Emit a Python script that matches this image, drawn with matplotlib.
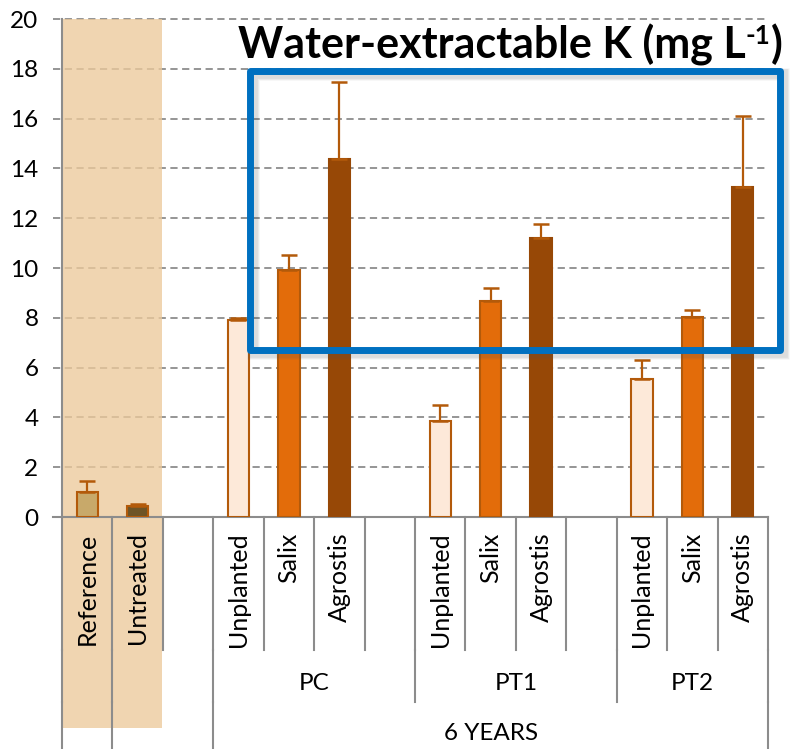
import matplotlib
matplotlib.use("Agg")
import matplotlib.pyplot as plt
from matplotlib.patches import Rectangle
import numpy as np

plt.rcParams['font.family'] = ['Lato', 'DejaVu Sans']

# ---- data ----
categories = ["Reference", "Untreated", "", "Unplanted", "Salix", "Agrostis", "",
              "Unplanted", "Salix", "Agrostis", "", "Unplanted", "Salix", "Agrostis"]
values = [1.02, 0.45, None, 7.91, 9.92, 14.38, None, 3.87, 8.66, 11.19, None, 5.55, 8.05, 13.25]
err_upper = [1.46, 0.51, None, 7.99, 10.52, 17.47, None, 4.50, 9.21, 11.78, None, 6.29, 8.31, 16.10]
groups = ["PC", "PT1", "PT2"]
group_spans = [(3, 7), (7, 11), (11, 14)]
top_label = "6 YEARS"
top_span = (3, 14)
yticks = [0, 2, 4, 6, 8, 10, 12, 14, 16, 18, 20]
title_main = "Water-extractable K (mg L"
title_sup = "-1"
title_end = ")"

fill_colors = {"Reference": "#C8A96A", "Untreated": "#6E5426", "Unplanted": "#FDE9D9",
               "Salix": "#E36C0A", "Agrostis": "#974806"}
edge_colors = {"Reference": "#B35A0A", "Untreated": "#B35A0A", "Unplanted": "#B35A0A",
               "Salix": "#B35A0A", "Agrostis": "#974806"}

W, H = 792, 749
fig = plt.figure(figsize=(W / 100, H / 100), dpi=100)
x0, x1 = 62, 768
y0, y1 = 517, 19
ax = fig.add_axes([x0 / W, (H - y0) / H, (x1 - x0) / W, (y0 - y1) / H])
ax.set_xlim(0, len(categories))
ax.set_ylim(0, 20)

gray = "#8C8C8C"
for yv in yticks[1:]:
    ax.axhline(yv, color=gray, lw=1.3, ls=(0, (4, 2.5)), zorder=1, xmin=-9 / (x1 - x0), clip_on=False)
ax.axhline(0, color=gray, lw=1.5, zorder=2, xmin=-9 / (x1 - x0), xmax=1, clip_on=False)

for s in ["top", "right", "bottom"]:
    ax.spines[s].set_visible(False)
ax.spines["left"].set_color(gray)
ax.spines["left"].set_linewidth(1.5)

ax.set_yticks(yticks)
ax.set_yticklabels([str(v) for v in yticks], fontsize=17.5)
ax.tick_params(axis="y", length=0, pad=17, labelcolor="black")

band = Rectangle((0, -0.424), 1.98, 1.424, transform=ax.get_xaxis_transform(),
                 facecolor="#EDCA9C", alpha=0.78, edgecolor="none", zorder=1.5, clip_on=False)
ax.add_patch(band)

xs = np.arange(len(categories)) + 0.5
for i, (c, v, e) in enumerate(zip(categories, values, err_upper)):
    if v is None:
        continue
    ax.bar(xs[i], v, width=0.42, color=fill_colors[c], edgecolor=edge_colors[c], linewidth=1.5, zorder=3)
    ax.errorbar(xs[i], v, yerr=[[0], [e - v]], fmt="none", ecolor="#B35A0A",
                elinewidth=1.6, capsize=6, capthick=1.8, zorder=3.5)

ax.set_xticks(xs)
ax.set_xticklabels(categories, rotation=90, fontsize=18, va="top", ha="center")
ax.tick_params(axis="x", length=0, pad=11)

tr = ax.get_xaxis_transform()
lv1 = (517 - 650) / (y0 - y1)
lv2 = (517 - 702) / (y0 - y1)
lv3 = (517 - 749) / (y0 - y1)
for b in range(len(categories) + 1):
    ax.plot([b, b], [0, lv1], color=gray, lw=1.5, transform=tr, clip_on=False, zorder=2)
for b in [0, 1, 3, 7, 11, 14]:
    ax.plot([b, b], [lv1, lv2], color=gray, lw=1.5, transform=tr, clip_on=False, zorder=2)
for b in [0, 1, 3, 14]:
    ax.plot([b, b], [lv2, lv3], color=gray, lw=1.5, transform=tr, clip_on=False, zorder=2)

for g, (a, b) in zip(groups, group_spans):
    ax.text((a + b) / 2, (517 - 684) / (y0 - y1), g, transform=tr, ha="center", va="center", fontsize=17.5)
ax.text(sum(top_span) / 2, (517 - 733) / (y0 - y1), top_label, transform=tr, ha="center", va="center", fontsize=17.5)

# blue highlight box with soft shadow
bx0, bx1 = 3.73, 14.24
by0, by1 = 6.71, 17.93
for k, a in [(4, 0.05), (3, 0.07), (2, 0.09)]:
    sh = Rectangle((bx0 + 0.06, by0 - 0.12), bx1 - bx0, by1 - by0, fill=False,
                   edgecolor="#555555", lw=5 + k, alpha=a, zorder=4, clip_on=False)
    ax.add_patch(sh)
box = Rectangle((bx0, by0), bx1 - bx0, by1 - by0, fill=False, edgecolor="#0070C0",
                lw=5, zorder=5, clip_on=False, joinstyle="round")
ax.add_patch(box)

# title in pieces (superscript)
fs = 31
renderer = fig.canvas.get_renderer()
t1 = fig.text(0, 0, title_main, fontsize=fs, fontweight="bold")
t2 = fig.text(0, 0, title_sup, fontsize=fs * 0.6, fontweight="bold")
t3 = fig.text(0, 0, title_end, fontsize=fs, fontweight="bold")
w1 = t1.get_window_extent(renderer).width
w2 = t2.get_window_extent(renderer).width
w3 = t3.get_window_extent(renderer).width
total = w1 + w2 + w3
cx = 510
base = H - 58
start = cx - total / 2
t1.set_position((start / W, base / H))
t2.set_position(((start + w1) / W, (base + 14) / H))
t3.set_position(((start + w1 + w2) / W, base / H))
for t in (t1, t2, t3):
    t.set_va("baseline")

fig.savefig("out.png", dpi=100)
